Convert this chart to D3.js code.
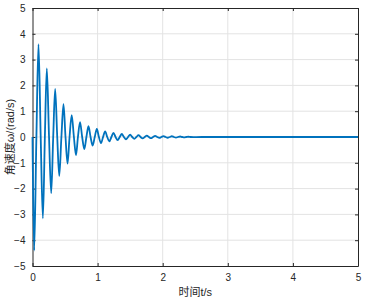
<!DOCTYPE html>
<html>
<head>
<meta charset="utf-8">
<script src="https://cdn.jsdelivr.net/npm/d3@7"></script>
<style>
  body { margin: 0; background: #fff; }
  svg { display: block; }
</style>
</head>
<body>
<svg id="svg"></svg>
<script>
// data: angular velocity vs time (extrema + zero crossings)
let time = [0, 0.026, 0.06, 0.092, 0.126, 0.159, 0.19, 0.22, 0.254, 0.287, 0.318, 0.348,
  0.38, 0.411, 0.444, 0.476, 0.507, 0.538, 0.569, 0.602, 0.636, 0.668, 0.698, 0.73,
  0.763, 0.796, 0.828, 0.86, 0.892, 0.924, 0.956, 0.988, 1.02, 1.052, 1.084, 1.116,
  1.148, 1.18, 1.212, 1.244, 1.276, 1.308, 1.34, 1.372, 1.404, 1.436, 1.468, 1.5,
  1.532, 1.564, 1.596, 1.628, 1.66, 1.692, 1.724, 1.756, 1.788, 1.82, 1.852, 1.884,
  1.916, 1.948, 1.98, 2.012, 2.044, 2.076, 2.108, 2.14, 2.172, 2.204, 2.236, 2.268,
  2.3, 2.332, 2.364, 2.396, 2.428, 2.6, 5];
let omega = [0, -4.4, 0, 3.6, 0, -3.15, 0, 2.66, 0, -2.18, 0, 1.86,
  0, -1.51, 0, 1.27, 0, -1.03, 0, 0.85, 0, -0.7, 0, 0.58,
  0, -0.47, 0, 0.42, 0, -0.33, 0, 0.31, 0, -0.24, 0, 0.22,
  0, -0.17, 0, 0.16, 0, -0.12, 0, 0.12, 0, -0.09, 0, 0.09,
  0, -0.07, 0, 0.07, 0, -0.055, 0, 0.055, 0, -0.045, 0, 0.045,
  0, -0.035, 0, 0.035, 0, -0.03, 0, 0.03, 0, -0.025, 0, 0.02,
  0, -0.015, 0, 0.01, 0, 0, 0];
let xTicks = [0, 1, 2, 3, 4, 5];
let yTicks = [-5, -4, -3, -2, -1, 0, 1, 2, 3, 4, 5];
let xLabel = "时间t/s";
let yLabel = "角速度ω/(rad/s)";

let width = 368;
let height = 301;
let plotLeft = 32.5, plotRight = 358, plotTop = 8, plotBottom = 266;

let svg = d3.select("#svg").attr("width", width).attr("height", height);

let xScale = d3.scaleLinear().domain([0, 5]).range([plotLeft, plotRight]);
let yScale = d3.scaleLinear().domain([-5, 5]).range([plotBottom, plotTop]);

let font = "'Liberation Sans', Arial, 'Noto Sans CJK SC', sans-serif";

// grid
svg.append("g")
  .selectAll("line")
  .data(xTicks.slice(1, -1))
  .enter()
  .append("line")
  .attr("x1", d => xScale(d)).attr("x2", d => xScale(d))
  .attr("y1", plotTop).attr("y2", plotBottom)
  .attr("stroke", "#e3e3e3").attr("stroke-width", 1);

svg.append("g")
  .selectAll("line")
  .data(yTicks.slice(1, -1))
  .enter()
  .append("line")
  .attr("x1", plotLeft).attr("x2", plotRight)
  .attr("y1", d => yScale(d)).attr("y2", d => yScale(d))
  .attr("stroke", "#e3e3e3").attr("stroke-width", 1);

// axes with inward ticks
let xAxis = d3.axisBottom(xScale).tickValues(xTicks).tickFormat(d3.format("d"))
  .tickSizeInner(-3).tickSizeOuter(0).tickPadding(8);
let yAxis = d3.axisLeft(yScale).tickValues(yTicks).tickFormat(d3.format("d"))
  .tickSizeInner(-3).tickSizeOuter(0).tickPadding(7);
let xTop = d3.axisTop(xScale).tickValues(xTicks).tickSizeInner(-3).tickSizeOuter(0).tickFormat("");
let yRight = d3.axisRight(yScale).tickValues(yTicks).tickSizeInner(-3).tickSizeOuter(0).tickFormat("");

let gx = svg.append("g").attr("transform", "translate(0," + plotBottom + ")").call(xAxis);
let gy = svg.append("g").attr("transform", "translate(" + plotLeft + ",0)").call(yAxis);
let gxt = svg.append("g").attr("transform", "translate(0," + plotTop + ")").call(xTop);
let gyr = svg.append("g").attr("transform", "translate(" + plotRight + ",0)").call(yRight);

[gx, gy, gxt, gyr].forEach(g => {
  g.selectAll("path").attr("stroke", "#262626");
  g.selectAll("line").attr("stroke", "#262626");
  g.selectAll("text").attr("fill", "#262626").style("font-family", font).style("font-size", "10px");
});

// series
let points = time.map((t, i) => [t, omega[i]]);
let line = d3.line()
  .x(d => xScale(d[0]))
  .y(d => yScale(d[1]))
  .curve(d3.curveCatmullRom.alpha(0.5));

svg.append("path")
  .datum(points)
  .attr("d", line)
  .attr("fill", "none")
  .attr("stroke", "#0072BD")
  .attr("stroke-width", 1.8)
  .attr("stroke-linejoin", "round");

// labels
svg.append("text")
  .attr("x", (plotLeft + plotRight) / 2)
  .attr("y", 296)
  .attr("text-anchor", "middle")
  .attr("fill", "#262626")
  .style("font-family", font)
  .style("font-size", "11px")
  .text(xLabel);

svg.append("text")
  .attr("transform", "translate(14," + ((plotTop + plotBottom) / 2) + ") rotate(-90)")
  .attr("text-anchor", "middle")
  .attr("fill", "#262626")
  .style("font-family", font)
  .style("font-size", "11px")
  .text(yLabel);
</script>
</body>
</html>
